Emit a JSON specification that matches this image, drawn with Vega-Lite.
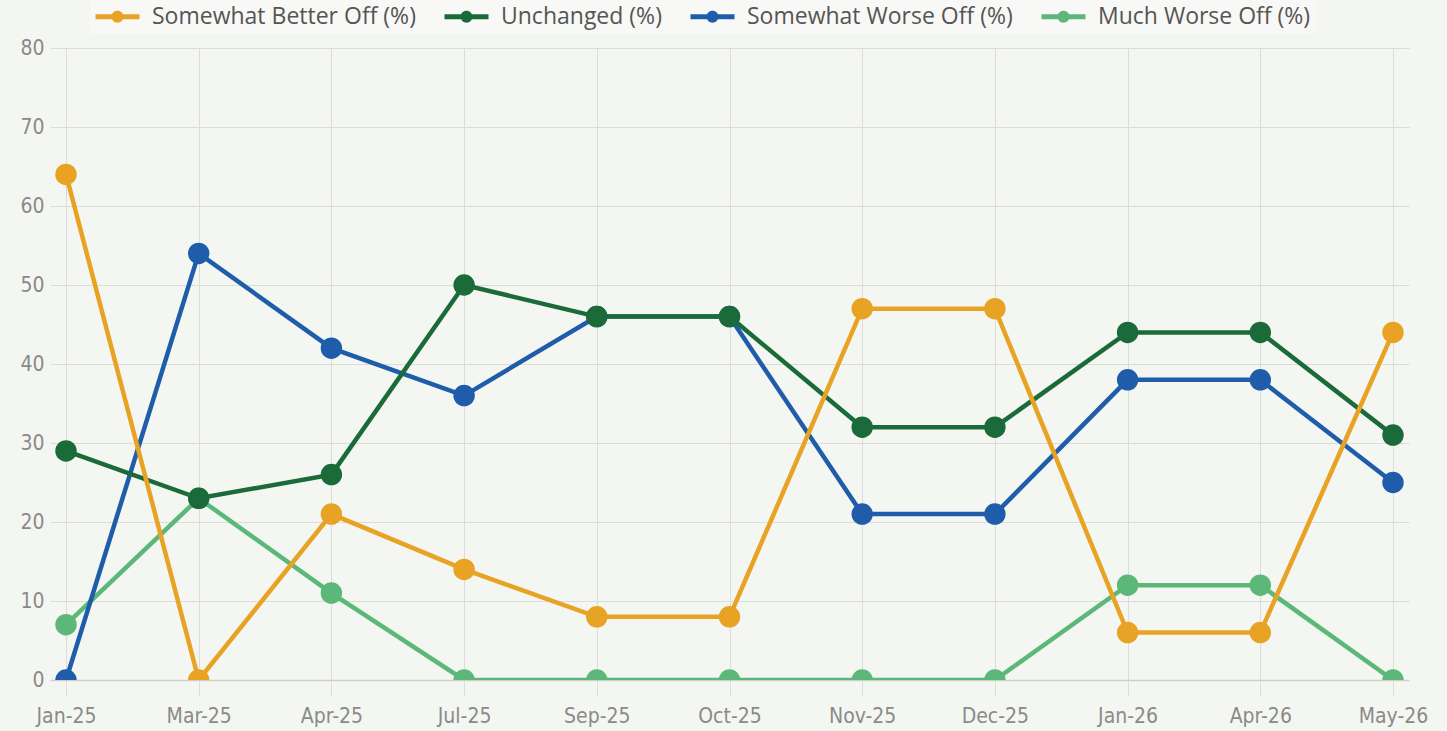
{
  "$schema": "https://vega.github.io/schema/vega-lite/v6.json",
  "autosize": {"type": "none"},
  "width": 1359,
  "height": 632,
  "padding": {"left": 50, "top": 48, "right": 38, "bottom": 51},
  "background": "#F4F7F1",
  "config": {
    "view": {"stroke": null},
    "axis": {
      "gridColor": "#DCDDDA",
      "gridWidth": 1,
      "labelColor": "#8A8A8A",
      "labelFont": "DejaVu Sans Condensed, Roboto",
      "labelFontSize": 21
    }
  },
  "data": {
    "values": [
      {"month": "Jan-25", "series": "Much Worse Off (%)", "value": 7},
      {"month": "Mar-25", "series": "Much Worse Off (%)", "value": 23},
      {"month": "Apr-25", "series": "Much Worse Off (%)", "value": 11},
      {"month": "Jul-25", "series": "Much Worse Off (%)", "value": 0},
      {"month": "Sep-25", "series": "Much Worse Off (%)", "value": 0},
      {"month": "Oct-25", "series": "Much Worse Off (%)", "value": 0},
      {"month": "Nov-25", "series": "Much Worse Off (%)", "value": 0},
      {"month": "Dec-25", "series": "Much Worse Off (%)", "value": 0},
      {"month": "Jan-26", "series": "Much Worse Off (%)", "value": 12},
      {"month": "Apr-26", "series": "Much Worse Off (%)", "value": 12},
      {"month": "May-26", "series": "Much Worse Off (%)", "value": 0},
      {"month": "Jan-25", "series": "Somewhat Worse Off (%)", "value": 0},
      {"month": "Mar-25", "series": "Somewhat Worse Off (%)", "value": 54},
      {"month": "Apr-25", "series": "Somewhat Worse Off (%)", "value": 42},
      {"month": "Jul-25", "series": "Somewhat Worse Off (%)", "value": 36},
      {"month": "Sep-25", "series": "Somewhat Worse Off (%)", "value": 46},
      {"month": "Oct-25", "series": "Somewhat Worse Off (%)", "value": 46},
      {"month": "Nov-25", "series": "Somewhat Worse Off (%)", "value": 21},
      {"month": "Dec-25", "series": "Somewhat Worse Off (%)", "value": 21},
      {"month": "Jan-26", "series": "Somewhat Worse Off (%)", "value": 38},
      {"month": "Apr-26", "series": "Somewhat Worse Off (%)", "value": 38},
      {"month": "May-26", "series": "Somewhat Worse Off (%)", "value": 25},
      {"month": "Jan-25", "series": "Unchanged (%)", "value": 29},
      {"month": "Mar-25", "series": "Unchanged (%)", "value": 23},
      {"month": "Apr-25", "series": "Unchanged (%)", "value": 26},
      {"month": "Jul-25", "series": "Unchanged (%)", "value": 50},
      {"month": "Sep-25", "series": "Unchanged (%)", "value": 46},
      {"month": "Oct-25", "series": "Unchanged (%)", "value": 46},
      {"month": "Nov-25", "series": "Unchanged (%)", "value": 32},
      {"month": "Dec-25", "series": "Unchanged (%)", "value": 32},
      {"month": "Jan-26", "series": "Unchanged (%)", "value": 44},
      {"month": "Apr-26", "series": "Unchanged (%)", "value": 44},
      {"month": "May-26", "series": "Unchanged (%)", "value": 31},
      {"month": "Jan-25", "series": "Somewhat Better Off (%)", "value": 64},
      {"month": "Mar-25", "series": "Somewhat Better Off (%)", "value": 0},
      {"month": "Apr-25", "series": "Somewhat Better Off (%)", "value": 21},
      {"month": "Jul-25", "series": "Somewhat Better Off (%)", "value": 14},
      {"month": "Sep-25", "series": "Somewhat Better Off (%)", "value": 8},
      {"month": "Oct-25", "series": "Somewhat Better Off (%)", "value": 8},
      {"month": "Nov-25", "series": "Somewhat Better Off (%)", "value": 47},
      {"month": "Dec-25", "series": "Somewhat Better Off (%)", "value": 47},
      {"month": "Jan-26", "series": "Somewhat Better Off (%)", "value": 6},
      {"month": "Apr-26", "series": "Somewhat Better Off (%)", "value": 6},
      {"month": "May-26", "series": "Somewhat Better Off (%)", "value": 44}
    ]
  },
  "encoding": {
    "x": {
      "field": "month",
      "type": "ordinal",
      "sort": null,
      "scale": {"type": "point", "padding": 0.1206},
      "axis": {
        "title": null,
        "labelAngle": 0,
        "tickSize": 16,
        "tickColor": "#DCDDDA",
        "labelPadding": 9,
        "domain": true,
        "domainColor": "#CFCFCC",
        "domainWidth": 1.5,
        "grid": true
      }
    },
    "y": {
      "field": "value",
      "type": "quantitative",
      "scale": {"domain": [0, 80], "nice": false},
      "axis": {
        "title": null,
        "values": [0, 10, 20, 30, 40, 50, 60, 70, 80],
        "ticks": false,
        "domain": false,
        "labelPadding": 6,
        "grid": true
      }
    },
    "color": {
      "field": "series",
      "type": "nominal",
      "scale": {
        "domain": ["Somewhat Better Off (%)", "Unchanged (%)", "Somewhat Worse Off (%)", "Much Worse Off (%)"],
        "range": ["#E8A224", "#1B6B3A", "#1F5DAB", "#5BB878"]
      },
      "legend": {
        "title": null,
        "orient": "none",
        "legendX": 40,
        "legendY": -48,
        "direction": "horizontal",
        "columns": 4,
        "columnPadding": 28,
        "padding": 5,
        "fillColor": "#F8F9F6",
        "labelFont": "Open Sans",
        "labelFontSize": 23,
        "labelColor": "#555555",
        "labelLimit": 500,
        "labelOffset": 34,
        "symbolType": "M-1,-0.22H3V0.22H-1Z M0.46,0A0.54,0.54 0 1,1 1.54,0A0.54,0.54 0 1,1 0.46,0Z",
        "symbolSize": 484,
        "symbolStrokeWidth": 0,
        "encode": {
          "symbols": {"update": {"fill": {"scale": "color", "field": "value"}, "strokeWidth": {"value": 0}}}
        }
      }
    }
  },
  "layer": [
    {"mark": {"type": "line", "strokeWidth": 4.5, "clip": true}},
    {"mark": {"type": "point", "filled": true, "opacity": 1, "size": 460, "clip": true}}
  ]
}
